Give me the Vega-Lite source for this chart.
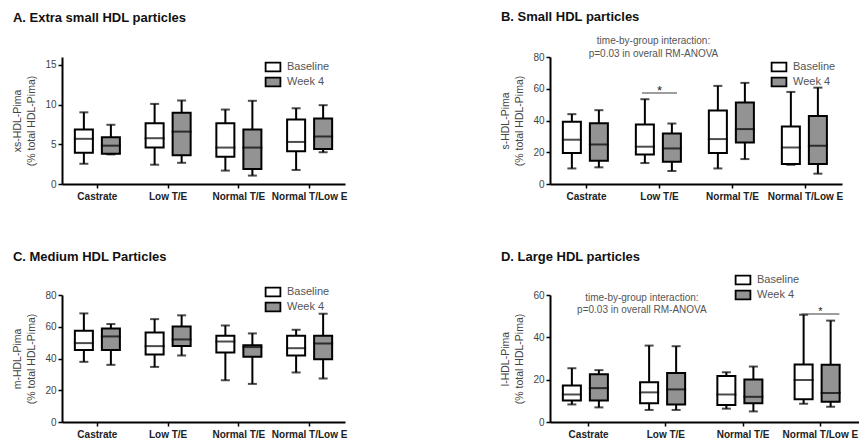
{
  "$schema": "https://vega.github.io/schema/vega-lite/v6.json",
  "background": "white",
  "padding": {"left": 12, "top": 11, "right": 0, "bottom": 0},
  "config": {
    "font": "Liberation Sans",
    "view": {"stroke": null},
    "axis": {"domainColor": "black", "domainWidth": 2, "tickColor": "black", "tickWidth": 1.5, "tickSize": 4, "labelColor": "#444", "titleColor": "#444", "grid": false, "labelFontSize": 10, "titleFontSize": 10.5, "titleFontWeight": "normal", "labelPadding": 2, "labelOverlap": false},
    "axisY": {"titlePadding": 8, "titleLineHeight": 14, "labelOverlap": false},
    "axisX": {"labelFontWeight": "bold", "labelColor": "#222", "labelAngle": 0, "labelPadding": 3},
    "title": {"anchor": "start", "fontSize": 13, "fontWeight": "bold", "color": "#111", "frame": "bounds", "offset": 10},
    "legend": {"orient": "none", "title": null, "symbolType": "M-1.45,-0.85H1.45V0.85H-1.45Z", "symbolSize": 104, "symbolStrokeColor": "black", "symbolStrokeWidth": 1.8, "labelFontSize": 11, "labelColor": "#555", "labelOffset": 8, "rowPadding": -1}
  },
  "datasets": {
    "boxes": [
      {"panel":"A","group":"Castrate","time":"Baseline","min":2.55,"q1":3.93,"median":5.69,"q3":6.87,"max":9.03},
      {"panel":"A","group":"Castrate","time":"Week 4","min":3.73,"q1":3.81,"median":4.83,"q3":5.89,"max":7.46},
      {"panel":"A","group":"Low T/E","time":"Baseline","min":2.43,"q1":4.59,"median":5.77,"q3":7.66,"max":10.09},
      {"panel":"A","group":"Low T/E","time":"Week 4","min":2.67,"q1":3.61,"median":6.6,"q3":8.99,"max":10.52},
      {"panel":"A","group":"Normal T/E","time":"Baseline","min":1.69,"q1":3.42,"median":4.59,"q3":7.66,"max":9.38},
      {"panel":"A","group":"Normal T/E","time":"Week 4","min":1.06,"q1":1.88,"median":4.59,"q3":6.87,"max":10.48},
      {"panel":"A","group":"Normal T/Low E","time":"Baseline","min":1.77,"q1":4.12,"median":5.3,"q3":8.13,"max":9.54},
      {"panel":"A","group":"Normal T/Low E","time":"Week 4","min":4.0,"q1":4.4,"median":5.97,"q3":8.25,"max":9.93},
      {"panel":"B","group":"Castrate","time":"Baseline","min":9.8,"q1":19.5,"median":27.9,"q3":39.2,"max":44},
      {"panel":"B","group":"Castrate","time":"Week 4","min":10.5,"q1":14.7,"median":24.9,"q3":38.3,"max":46.5},
      {"panel":"B","group":"Low T/E","time":"Baseline","min":13.2,"q1":18.6,"median":23.5,"q3":37.5,"max":53.4},
      {"panel":"B","group":"Low T/E","time":"Week 4","min":8.2,"q1":14.0,"median":22.4,"q3":31.8,"max":38.1},
      {"panel":"B","group":"Normal T/E","time":"Baseline","min":9.8,"q1":19.5,"median":28.3,"q3":46.3,"max":61.8},
      {"panel":"B","group":"Normal T/E","time":"Week 4","min":15.7,"q1":26.2,"median":34.6,"q3":51.3,"max":63.7},
      {"panel":"B","group":"Normal T/Low E","time":"Baseline","min":12.1,"q1":12.6,"median":23,"q3":36.2,"max":58},
      {"panel":"B","group":"Normal T/Low E","time":"Week 4","min":6.5,"q1":12.6,"median":24.1,"q3":42.9,"max":60.7},
      {"panel":"C","group":"Castrate","time":"Baseline","min":37.9,"q1":45.3,"median":49.7,"q3":57.5,"max":68.4},
      {"panel":"C","group":"Castrate","time":"Week 4","min":36,"q1":45.3,"median":53.9,"q3":58.9,"max":61.7},
      {"panel":"C","group":"Low T/E","time":"Baseline","min":34.7,"q1":42.5,"median":47.8,"q3":56.4,"max":64.8},
      {"panel":"C","group":"Low T/E","time":"Week 4","min":41.9,"q1":47.8,"median":52,"q3":60.2,"max":67.2},
      {"panel":"C","group":"Normal T/E","time":"Baseline","min":26.3,"q1":43.8,"median":50.7,"q3":54.3,"max":60.8},
      {"panel":"C","group":"Normal T/E","time":"Week 4","min":24,"q1":41.1,"median":47.2,"q3":48.4,"max":55.8},
      {"panel":"C","group":"Normal T/Low E","time":"Baseline","min":31.2,"q1":41.9,"median":46.5,"q3":54.3,"max":58.1},
      {"panel":"C","group":"Normal T/Low E","time":"Week 4","min":27.4,"q1":39.6,"median":49.5,"q3":54.3,"max":68.2},
      {"panel":"D","group":"Castrate","time":"Baseline","min":8.3,"q1":10.2,"median":13,"q3":17.3,"max":25.4},
      {"panel":"D","group":"Castrate","time":"Week 4","min":6.9,"q1":10.2,"median":16,"q3":22.6,"max":24.5},
      {"panel":"D","group":"Low T/E","time":"Baseline","min":5.7,"q1":8.9,"median":14,"q3":18.8,"max":36.1},
      {"panel":"D","group":"Low T/E","time":"Week 4","min":5.7,"q1":8.3,"median":15.4,"q3":23.1,"max":35.8},
      {"panel":"D","group":"Normal T/E","time":"Baseline","min":6.3,"q1":8,"median":13,"q3":21.7,"max":23.5},
      {"panel":"D","group":"Normal T/E","time":"Week 4","min":5.0,"q1":8.8,"median":11.9,"q3":20.1,"max":26.2},
      {"panel":"D","group":"Normal T/Low E","time":"Baseline","min":8.6,"q1":10.8,"median":19.9,"q3":27.2,"max":50.7},
      {"panel":"D","group":"Normal T/Low E","time":"Week 4","min":7.2,"q1":9.6,"median":13.7,"q3":27,"max":47.9}
    ]
  },
  "columns": 2,
  "bounds": "flush",
  "spacing": {"row": 111, "column": 205},
  "resolve": {"scale": {"fill": "independent"}, "legend": {"fill": "independent"}},
  "concat": [
    {
      "width": 283, "height": 127,
      "title": {"text": "A. Extra small HDL particles", "offset": 32},
      "data": {"name": "boxes"},
      "transform": [{"filter": "datum.panel == 'A'"}],
      "encoding": {
        "x": {"field": "group", "type": "nominal", "sort": ["Castrate","Low T/E","Normal T/E","Normal T/Low E"], "title": null, "scale": {"paddingInner": 0, "paddingOuter": 0}},
        "xOffset": {"field": "time", "type": "nominal", "scale": {"paddingInner": 0.333, "paddingOuter": 0.476}}
      },
      "layer": [
        {"mark": {"type": "rule", "color": "black", "strokeWidth": 2},
         "encoding": {"y": {"field": "min", "type": "quantitative", "title": ["xs-HDL-Pima", "(% total HDL-Pima)"], "scale": {"domain": [0, 15]}, "axis": {"values": [0, 5, 10, 15], "labelOverlap": false}}, "y2": {"field": "max"}}},
        {"mark": {"type": "tick", "color": "black", "size": 9, "thickness": 2}, "encoding": {"y": {"field": "min", "type": "quantitative", "title": ["xs-HDL-Pima", "(% total HDL-Pima)"]}}},
        {"mark": {"type": "tick", "color": "black", "size": 9, "thickness": 2}, "encoding": {"y": {"field": "max", "type": "quantitative", "title": ["xs-HDL-Pima", "(% total HDL-Pima)"]}}},
        {"mark": {"type": "bar", "stroke": "black", "strokeWidth": 2},
         "encoding": {"y": {"field": "q1", "type": "quantitative", "title": ["xs-HDL-Pima", "(% total HDL-Pima)"]}, "y2": {"field": "q3"},
           "fill": {"field": "time", "type": "nominal", "scale": {"domain": ["Baseline", "Week 4"], "range": ["white", "#939393"]}, "legend": {"legendX": 205, "legendY": 4}}}},
        {"mark": {"type": "tick", "color": "black", "size": 20, "thickness": 2}, "encoding": {"y": {"field": "median", "type": "quantitative", "title": ["xs-HDL-Pima", "(% total HDL-Pima)"]}}}
      ]
    },
    {
      "width": 292, "height": 127,
      "title": {"text": "B. Small HDL particles", "offset": 11.5},
      "data": {"name": "boxes"},
      "transform": [{"filter": "datum.panel == 'B'"}],
      "encoding": {
        "x": {"field": "group", "type": "nominal", "sort": ["Castrate","Low T/E","Normal T/E","Normal T/Low E"], "title": null, "scale": {"paddingInner": 0, "paddingOuter": 0}},
        "xOffset": {"field": "time", "type": "nominal", "scale": {"paddingInner": 0.375, "paddingOuter": 0.455}}
      },
      "layer": [
        {"mark": {"type": "rule", "color": "black", "strokeWidth": 2},
         "encoding": {"y": {"field": "min", "type": "quantitative", "title": ["s-HDL-Pima", "(% total HDL-Pima)"], "scale": {"domain": [0, 80]}, "axis": {"values": [0, 20, 40, 60, 80], "tickCount": 5, "labelOverlap": false}}, "y2": {"field": "max"}}},
        {"mark": {"type": "tick", "color": "black", "size": 9, "thickness": 2}, "encoding": {"y": {"field": "min", "type": "quantitative", "title": ["s-HDL-Pima", "(% total HDL-Pima)"]}}},
        {"mark": {"type": "tick", "color": "black", "size": 9, "thickness": 2}, "encoding": {"y": {"field": "max", "type": "quantitative", "title": ["s-HDL-Pima", "(% total HDL-Pima)"]}}},
        {"mark": {"type": "bar", "stroke": "black", "strokeWidth": 2},
         "encoding": {"y": {"field": "q1", "type": "quantitative", "title": ["s-HDL-Pima", "(% total HDL-Pima)"]}, "y2": {"field": "q3"},
           "fill": {"field": "time", "type": "nominal", "scale": {"domain": ["Baseline", "Week 4"], "range": ["white", "#939393"]}, "legend": {"legendX": 223, "legendY": 4}}}},
        {"mark": {"type": "tick", "color": "black", "size": 20, "thickness": 2}, "encoding": {"y": {"field": "median", "type": "quantitative", "title": ["s-HDL-Pima", "(% total HDL-Pima)"]}}},
        {"data": {"values": [{"panel": "B", "group": "Low T/E", "bar": 57.4, "star": 58.5, "note": 90.2}]},
         "layer": [
           {"mark": {"type": "tick", "color": "#444", "size": 35, "thickness": 1.5}, "encoding": {"x": {"field": "group", "type": "nominal"}, "xOffset": null, "y": {"field": "bar", "type": "quantitative", "title": ["s-HDL-Pima", "(% total HDL-Pima)"]}}},
           {"mark": {"type": "text", "text": "*", "fontSize": 13, "color": "#222", "baseline": "alphabetic", "dy": 4}, "encoding": {"x": {"field": "group", "type": "nominal"}, "xOffset": null, "y": {"field": "star", "type": "quantitative", "title": ["s-HDL-Pima", "(% total HDL-Pima)"]}}},
           {"mark": {"type": "text", "text": ["time-by-group interaction:", "p=0.03 in overall  RM-ANOVA"], "fontSize": 10, "color": "#555", "lineHeight": 13, "baseline": "middle", "dx": -6}, "encoding": {"x": {"field": "group", "type": "nominal"}, "xOffset": null, "y": {"field": "note", "type": "quantitative", "title": ["s-HDL-Pima", "(% total HDL-Pima)"]}}}
         ]}
      ]
    },
    {
      "width": 283, "height": 127,
      "title": {"text": "C. Medium HDL Particles", "offset": 22},
      "data": {"name": "boxes"},
      "transform": [{"filter": "datum.panel == 'C'"}],
      "encoding": {
        "x": {"field": "group", "type": "nominal", "sort": ["Castrate","Low T/E","Normal T/E","Normal T/Low E"], "title": null, "scale": {"paddingInner": 0, "paddingOuter": 0}},
        "xOffset": {"field": "time", "type": "nominal", "scale": {"paddingInner": 0.333, "paddingOuter": 0.476}}
      },
      "layer": [
        {"mark": {"type": "rule", "color": "black", "strokeWidth": 2},
         "encoding": {"y": {"field": "min", "type": "quantitative", "title": ["m-HDL-Pima", "(% total HDL-Pima)"], "scale": {"domain": [0, 80]}, "axis": {"values": [0, 20, 40, 60, 80], "tickCount": 5, "labelOverlap": false}}, "y2": {"field": "max"}}},
        {"mark": {"type": "tick", "color": "black", "size": 9, "thickness": 2}, "encoding": {"y": {"field": "min", "type": "quantitative", "title": ["m-HDL-Pima", "(% total HDL-Pima)"]}}},
        {"mark": {"type": "tick", "color": "black", "size": 9, "thickness": 2}, "encoding": {"y": {"field": "max", "type": "quantitative", "title": ["m-HDL-Pima", "(% total HDL-Pima)"]}}},
        {"mark": {"type": "bar", "stroke": "black", "strokeWidth": 2},
         "encoding": {"y": {"field": "q1", "type": "quantitative", "title": ["m-HDL-Pima", "(% total HDL-Pima)"]}, "y2": {"field": "q3"},
           "fill": {"field": "time", "type": "nominal", "scale": {"domain": ["Baseline", "Week 4"], "range": ["white", "#939393"]}, "legend": {"legendX": 205, "legendY": -9}}}},
        {"mark": {"type": "tick", "color": "black", "size": 20, "thickness": 2}, "encoding": {"y": {"field": "median", "type": "quantitative", "title": ["m-HDL-Pima", "(% total HDL-Pima)"]}}}
      ]
    },
    {
      "width": 309, "height": 127,
      "title": {"text": "D. Large HDL particles", "offset": 10},
      "data": {"name": "boxes"},
      "transform": [{"filter": "datum.panel == 'D'"}],
      "encoding": {
        "x": {"field": "group", "type": "nominal", "sort": ["Castrate","Low T/E","Normal T/E","Normal T/Low E"], "title": null, "scale": {"paddingInner": 0, "paddingOuter": 0}},
        "xOffset": {"field": "time", "type": "nominal", "scale": {"paddingInner": 0.383, "paddingOuter": 0.446}}
      },
      "layer": [
        {"mark": {"type": "rule", "color": "black", "strokeWidth": 2},
         "encoding": {"y": {"field": "min", "type": "quantitative", "title": ["l-HDL-Pima", "(% total HDL-Pima)"], "scale": {"domain": [0, 60]}, "axis": {"values": [0, 20, 40, 60], "labelOverlap": false}}, "y2": {"field": "max"}}},
        {"mark": {"type": "tick", "color": "black", "size": 9, "thickness": 2}, "encoding": {"y": {"field": "min", "type": "quantitative", "title": ["l-HDL-Pima", "(% total HDL-Pima)"]}}},
        {"mark": {"type": "tick", "color": "black", "size": 9, "thickness": 2}, "encoding": {"y": {"field": "max", "type": "quantitative", "title": ["l-HDL-Pima", "(% total HDL-Pima)"]}}},
        {"mark": {"type": "bar", "stroke": "black", "strokeWidth": 2},
         "encoding": {"y": {"field": "q1", "type": "quantitative", "title": ["l-HDL-Pima", "(% total HDL-Pima)"]}, "y2": {"field": "q3"},
           "fill": {"field": "time", "type": "nominal", "scale": {"domain": ["Baseline", "Week 4"], "range": ["white", "#939393"]}, "legend": {"legendX": 187, "legendY": -21}}}},
        {"mark": {"type": "tick", "color": "black", "size": 20, "thickness": 2}, "encoding": {"y": {"field": "median", "type": "quantitative", "title": ["l-HDL-Pima", "(% total HDL-Pima)"]}}},
        {"data": {"values": [{"panel": "D", "group": "Normal T/Low E", "bar": 51, "star": 52.4, "note": 58.4, "notegroup": "Low T/E"}]},
         "layer": [
           {"mark": {"type": "tick", "color": "#444", "size": 38, "thickness": 1.5}, "encoding": {"x": {"field": "group", "type": "nominal"}, "xOffset": null, "y": {"field": "bar", "type": "quantitative", "title": ["l-HDL-Pima", "(% total HDL-Pima)"]}}},
           {"mark": {"type": "text", "text": "*", "fontSize": 11, "color": "#222", "baseline": "alphabetic", "dy": 4}, "encoding": {"x": {"field": "group", "type": "nominal"}, "xOffset": null, "y": {"field": "star", "type": "quantitative", "title": ["l-HDL-Pima", "(% total HDL-Pima)"]}}},
           {"mark": {"type": "text", "text": ["time-by-group interaction:", "p=0.03 in overall  RM-ANOVA"], "fontSize": 10, "color": "#555", "lineHeight": 11.5, "baseline": "middle", "dx": -24}, "encoding": {"x": {"field": "notegroup", "type": "nominal"}, "xOffset": null, "y": {"field": "note", "type": "quantitative", "title": ["l-HDL-Pima", "(% total HDL-Pima)"]}}}
         ]}
      ]
    }
  ]
}
